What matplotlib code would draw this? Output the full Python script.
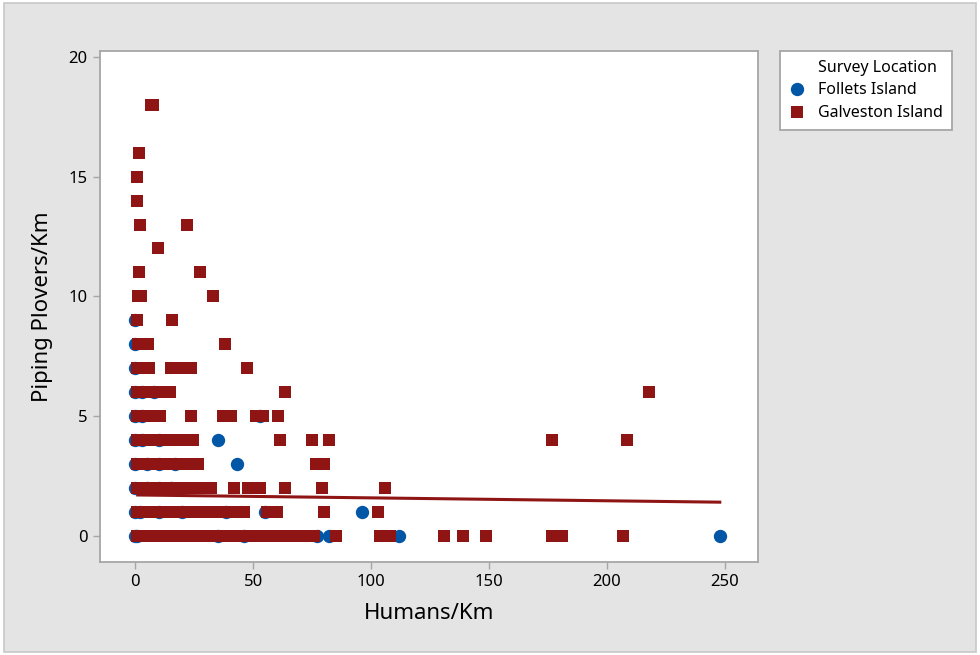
import matplotlib
matplotlib.use('Agg')
import matplotlib.pyplot as plt
import matplotlib.patches as patches
from matplotlib.lines import Line2D

plt.rcParams['font.family'] = ['Noto Sans', 'DejaVu Sans']

# Galveston Island surveys: humans/km and plovers/km, grouped by plover count
galv_x = {
    0: [0.5, 2, 3.5, 5, 6.5, 8, 10, 12, 14, 16, 18, 20, 22, 24, 26, 28, 30, 32,
        35, 37, 40, 43, 48, 50, 52, 55, 57, 60, 62, 65, 68, 72, 74, 76, 85,
        104, 108, 131, 139, 149, 177, 181, 207],
    1: [0.5, 2, 4, 6, 8, 10, 12, 14, 16, 18, 20, 22, 24, 26, 28, 30, 32, 34,
        36, 38, 40, 42, 44, 46, 56, 60, 80, 103],
    2: [0.5, 2, 4, 6, 8, 10, 12, 14, 16, 18, 20, 22, 24, 26, 28, 30, 32, 42,
        48, 50, 53, 63.5, 79, 106],
    3: [0.5, 2, 4, 6, 8, 10, 12, 14, 16, 19.5, 22, 24.5, 26.5, 76.5, 80],
    4: [0.5, 2, 4, 6, 8, 10, 12, 14, 16, 18, 20, 22, 24.5, 61.5, 75, 82,
        177, 208.5],
    5: [0.5, 2, 4, 6, 8, 10.5, 23.5, 37, 40.5, 51, 54, 60.5],
    6: [0.5, 2, 4, 6, 8, 10, 12, 14.5, 63.5, 218],
    7: [0.5, 2, 4, 6, 15, 17, 19, 21, 23.5, 47.5],
    8: [1, 3, 5.5, 38],
    9: [0.5, 15.5],
    10: [1, 2.5, 33],
    11: [1.5, 27.5],
    12: [9.5],
    13: [2, 22],
    14: [0.5],
    15: [0.5],
    16: [1.5],
    18: [6.5, 7.5],
}

# Follets Island surveys
foll_x = {
    0: [0, 0.5, 35, 46, 77, 82, 112, 248],
    1: [0, 2, 10, 20, 38.5, 55, 96],
    2: [0, 5, 10, 15],
    3: [0, 5, 10, 17, 43],
    4: [0, 3, 10, 35],
    5: [0, 3, 53],
    6: [0, 3, 8],
    7: [0],
    8: [0],
    9: [0],
}

# fitted line endpoints
fit_x = [1, 248]
fit_y = [1.70, 1.40]

blue = '#0256a6'
red = '#8f1515'

fig = plt.figure(figsize=(9.8, 6.55), dpi=100)
fig.patch.set_facecolor('white')
bg = patches.Rectangle((4 / 980, 3 / 655), 972 / 980, 649 / 655,
                       transform=fig.transFigure, facecolor='#e4e4e4',
                       edgecolor='#c8c8c8', linewidth=1.2, zorder=-10)
fig.add_artist(bg)

ax = fig.add_axes([100 / 980, 1 - 562 / 655, 657.5 / 980, 511 / 655])
ax.set_facecolor('white')

fx = [x for y in foll_x for x in foll_x[y]]
fy = [y for y in foll_x for x in foll_x[y]]
gx = [x for y in galv_x for x in galv_x[y]]
gy = [y for y in galv_x for x in galv_x[y]]

ax.plot(fx, fy, 'o', color=blue, markersize=9.6, markeredgewidth=0, zorder=2)
ax.plot(gx, gy, 's', color=red, markersize=9.2, markeredgewidth=0, zorder=3)
ax.plot(fit_x, fit_y, '-', color=red, linewidth=2.2, zorder=4)

ax.set_xlim(-15, 264)
ax.set_ylim(-1.1, 20.25)
ax.set_xticks([0, 50, 100, 150, 200, 250])
ax.set_yticks([0, 5, 10, 15, 20])

for s in ax.spines.values():
    s.set_color('#a6a6a6')
    s.set_linewidth(1.3)
ax.tick_params(direction='out', length=5, width=1, color='#a6a6a6',
               labelsize=12, labelcolor='black', pad=4)

ax.set_xlabel('Humans/Km', fontsize=16, labelpad=9)
ax.set_ylabel('Piping Plovers/Km', fontsize=16, labelpad=11)

handles = [
    Line2D([], [], linestyle='none', marker=None),
    Line2D([], [], linestyle='none', marker='o', color=blue, markersize=9.6, markeredgewidth=0),
    Line2D([], [], linestyle='none', marker='s', color=red, markersize=9.2, markeredgewidth=0),
]
labels = ['Survey Location', 'Follets Island', 'Galveston Island']
leg = fig.legend(handles, labels, loc='upper left', bbox_to_anchor=(780 / 980, 1 - 51 / 655),
                 frameon=True, fancybox=False, framealpha=1, fontsize=11.5, handlelength=1.0,
                 handletextpad=0.85, borderpad=0.55, labelspacing=0.42, borderaxespad=0)
leg.get_frame().set_edgecolor('#a6a6a6')
leg.get_frame().set_linewidth(1.3)

fig.savefig('out.png', dpi=100)
